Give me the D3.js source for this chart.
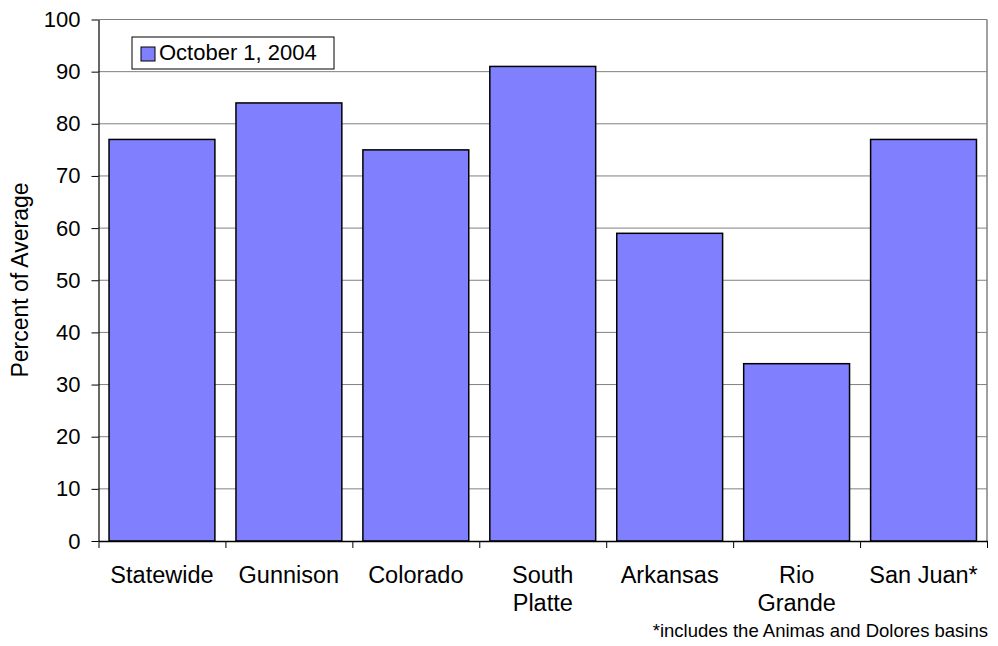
<!DOCTYPE html>
<html><head><meta charset="utf-8">
<script src="https://cdn.jsdelivr.net/npm/d3@7"></script>
<style>body{margin:0;background:#fff;font-family:Arial,"Liberation Sans",sans-serif;}</style>
</head><body>
<svg id="c" width="998" height="646"></svg>
<script>
const categories = ["Statewide","Gunnison","Colorado","South Platte","Arkansas","Rio Grande","San Juan*"];
const labelLines = [["Statewide"],["Gunnison"],["Colorado"],["South","Platte"],["Arkansas"],["Rio","Grande"],["San Juan*"]];
const values = [77,84,75,91,59,34,77];
const yTicks = [0,10,20,30,40,50,60,70,80,90,100];
const seriesName = "October 1, 2004";
const footnote = "*includes the Animas and Dolores basins";
const yTitle = "Percent of Average";

const FONT = "Arial, 'Liberation Sans', sans-serif";
const svg = d3.select("#c");
const L = 98.5, R = 987, T = 19.5, B = 541;
const x = d3.scaleBand().domain(categories).range([L, R]).paddingInner(0.166).paddingOuter(0.083);
const y = d3.scaleLinear().domain([0,100]).range([B, T]);

// gridlines
svg.append("g").selectAll("line").data(yTicks.filter(d=>d>0)).join("line")
  .attr("x1", L).attr("x2", R).attr("y1", d=>y(d)).attr("y2", d=>y(d))
  .attr("stroke", "#808080").attr("stroke-width", 1);
// right border
svg.append("line").attr("x1", R).attr("x2", R).attr("y1", T).attr("y2", B).attr("stroke","#808080").attr("stroke-width",1.5);

// bars
svg.append("g").selectAll("rect").data(values).join("rect")
  .attr("x", (d,i)=>x(categories[i])).attr("width", x.bandwidth())
  .attr("y", d=>y(d)).attr("height", d=>B - y(d))
  .attr("fill", "#8080FF").attr("stroke", "#000").attr("stroke-width", 1.5);

// y axis
const ya = svg.append("g").attr("transform", `translate(${L},0)`)
  .call(d3.axisLeft(y).tickValues(yTicks).tickSize(7).tickPadding(11).tickSizeOuter(0));
ya.select(".domain").attr("stroke","#000").attr("stroke-width",1.2);
ya.selectAll(".tick line").attr("stroke","#000");
ya.selectAll("text").attr("font-size","22px").attr("font-family",FONT).attr("fill","#000");

// x axis
const xb = d3.scaleLinear().domain([0,7]).range([L,R]);
const xa = svg.append("g").attr("transform", `translate(0,${B})`)
  .call(d3.axisBottom(xb).tickValues(d3.range(0,8)).tickSize(7).tickFormat("").tickSizeOuter(0));
xa.select(".domain").attr("stroke","#000").attr("stroke-width",1.5);
xa.selectAll(".tick line").attr("stroke","#000");

// category labels
const lab = svg.append("g").selectAll("text").data(categories).join("text")
  .attr("x", d=>x(d)+x.bandwidth()/2).attr("y", 583)
  .attr("text-anchor","middle").attr("font-size","23.5px").attr("font-family",FONT).attr("fill","#000");
lab.each(function(d,i){
  d3.select(this).selectAll("tspan").data(labelLines[i]).join("tspan")
    .attr("x", x(d)+x.bandwidth()/2).attr("dy",(t,j)=>j===0?0:28).text(t=>t);
});

// y title
svg.append("text").attr("transform", `translate(28,280) rotate(-90)`)
  .attr("text-anchor","middle").attr("font-size","23px").attr("font-family",FONT).attr("fill","#000").text(yTitle);

// legend
const lg = svg.append("g");
lg.append("rect").attr("x",132).attr("y",37).attr("width",202).attr("height",32)
  .attr("fill","#fff").attr("stroke","#000").attr("stroke-width",1);
lg.append("rect").attr("x",141).attr("y",47).attr("width",14).attr("height",14)
  .attr("fill","#8080FF").attr("stroke","#000").attr("stroke-width",1);
lg.append("text").attr("x",159).attr("y",60).attr("font-size","22px").attr("font-family",FONT).attr("fill","#000").text(seriesName);

// footnote
svg.append("text").attr("x",988).attr("y",637).attr("text-anchor","end")
  .attr("font-size","18.5px").attr("font-family",FONT).attr("fill","#000").text(footnote);
</script>
</body></html>
